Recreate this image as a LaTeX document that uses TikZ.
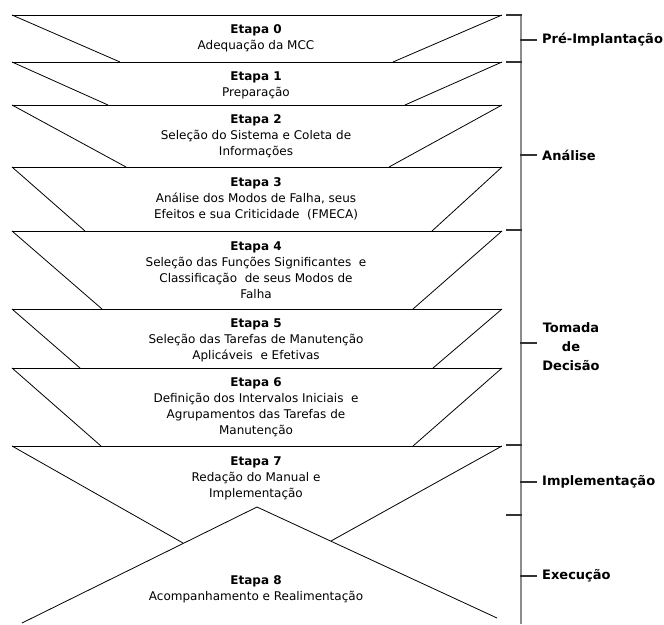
\documentclass[tikz,border=0pt]{standalone}
\usepackage{fontspec}
\setmainfont{DejaVu Sans}
\begin{document}
\begin{tikzpicture}[x=1pt,y=-1pt,
  stageline/.style={black,line width=0.8pt},
  stagetxt/.style={align=center,inner sep=0pt,font=\fontsize{12}{16}\selectfont},
  bracket/.style={gray!90,line width=1.4pt},
  tick/.style={black!80,line width=1.4pt},
  phase/.style={anchor=west,inner sep=0pt,font=\fontsize{13}{19}\selectfont\bfseries}]
\useasboundingbox (0,0) rectangle (664,624);

% stacked stage bands: top edge, left and right slanted sides
\foreach \t/\b/\lx/\rx in {15/62/120/393, 62/105/108/405, 105/167/126/389,
    167/231/85/432, 231/309/102/413, 309/368/80/433, 368/446/101/413}{
  \draw[stageline] (12,\t) -- (502,\t);
  \draw[stageline] (12,\t) -- (\lx,\b);
  \draw[stageline] (502,\t) -- (\rx,\b);
}
% stage 7 band, closed below by the stage 8 peak
\coordinate (j7l) at (183,543);
\coordinate (j7r) at (331,541);
\coordinate (apex) at (257,507);
\draw[stageline] (12,446) -- (502,446);
\draw[stageline] (12,446) -- (j7l);
\draw[stageline] (502,446) -- (j7r);
% stage 8 peak
\draw[stageline] (22,623) -- (apex) -- (497,618);

% stage texts
\node[stagetxt] (e0) at (256,38.5) {\textbf{Etapa 0}\\Adequação da MCC};
\node[stagetxt] (e1) at (256,85) {\textbf{Etapa 1}\\Preparação};
\node[stagetxt] (e2) at (256,136) {\textbf{Etapa 2}\\Seleção do Sistema e Coleta de\\Informações};
\node[stagetxt] (e3) at (256,199) {\textbf{Etapa 3}\\Análise dos Modos de Falha, seus\\Efeitos e sua Criticidade\ \ (FMECA)};
\node[stagetxt] (e4) at (256,270) {\textbf{Etapa 4}\\Seleção das Funções Significantes\ \ e\\Classificação\ \ de seus Modos de\\Falha};
\node[stagetxt] (e5) at (256,340) {\textbf{Etapa 5}\\Seleção das Tarefas de Manutenção\\Aplicáveis\ \ e Efetivas};
\node[stagetxt] (e6) at (256,407.5) {\textbf{Etapa 6}\\Definição dos Intervalos Iniciais\ \ e\\Agrupamentos das Tarefas de\\Manutenção};
\node[stagetxt] (e7) at (256,478) {\textbf{Etapa 7}\\Redação do Manual e\\Implementação};
\node[stagetxt] (e8) at (256,589.5) {\textbf{Etapa 8}\\Acompanhamento e Realimentação};

% phase bracket
\draw[bracket] (521,15) -- (521,624);
\foreach \y in {15,62,230,445,515}{
  \draw[tick] (506,\y) -- (521.7,\y);
}
\foreach \y in {40,155,343,482,576}{
  \draw[tick] (520.3,\y) -- (537,\y);
}

% phase labels
\node[phase] (p0) at (542,40) {Pré-Implantação};
\node[phase] (p1) at (542,155) {Análise};
\node[phase,anchor=center,align=center] (p2) at (571,347) {Tomada\\de\\Decisão};
\node[phase] (p3) at (542,482) {Implementação};
\node[phase] (p4) at (542,576) {Execução};
\end{tikzpicture}
\end{document}
